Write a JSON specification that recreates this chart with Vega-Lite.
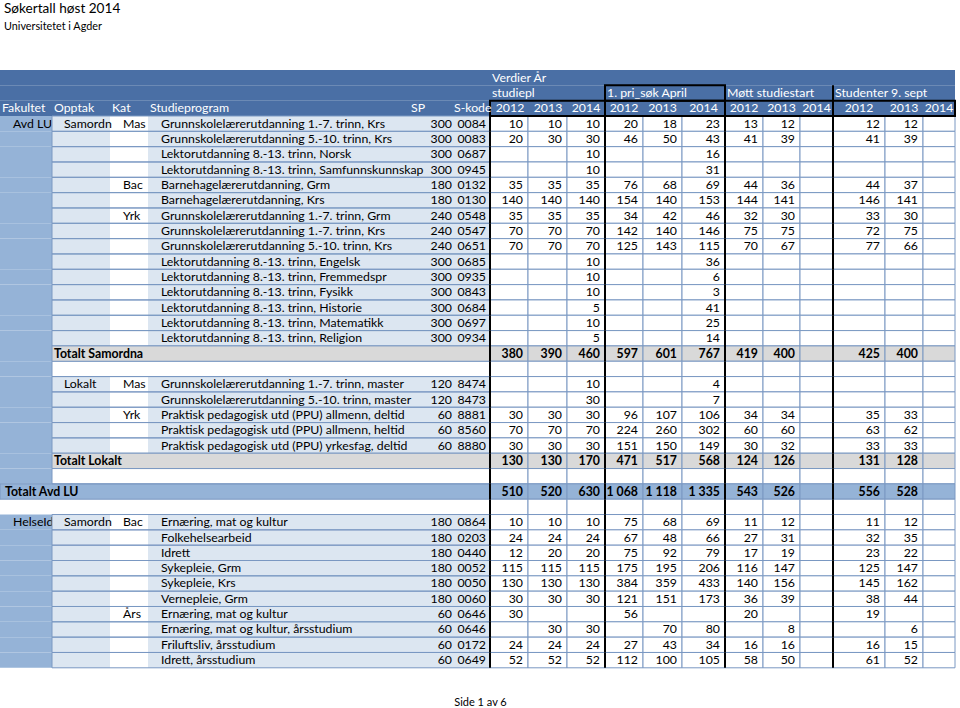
{
  "$schema": "https://vega.github.io/schema/vega-lite/v6.json",
  "width": 960,
  "height": 708,
  "padding": 0,
  "autosize": "none",
  "background": "white",
  "title": {"text": "Søkertall høst 2014", "subtitle": "Universitetet i Agder", "anchor": "start", "frame": "group", "offset": -32, "dx": 4, "fontSize": 13.6, "subtitleFontSize": 10.8, "font": "Lato", "subtitleFont": "Lato", "fontWeight": "normal", "subtitleFontWeight": "normal", "color": "#000000", "subtitleColor": "#000000", "subtitlePadding": 6, "baseline": "top"},
  "config": {
    "view": {"stroke": null},
    "font": "Lato",
    "text": {"font": "Lato", "fontSize": 12.3, "color": "#000000"},
    "locale": {"number": {"decimal": ",", "thousands": " ", "grouping": [3], "currency": ["", " kr"]}}
  },
  "datasets": {
    "cols": [
      {"k": "s12", "yr": "2012", "lo": 6, "hi": 7},
      {"k": "s13", "yr": "2013", "lo": 7, "hi": 8},
      {"k": "s14", "yr": "2014", "lo": 8, "hi": 9},
      {"k": "p12", "yr": "2012", "lo": 9, "hi": 10},
      {"k": "p13", "yr": "2013", "lo": 10, "hi": 11},
      {"k": "p14", "yr": "2014", "lo": 11, "hi": 12},
      {"k": "m12", "yr": "2012", "lo": 12, "hi": 13},
      {"k": "m13", "yr": "2013", "lo": 13, "hi": 14},
      {"k": "m14", "yr": "2014", "lo": 14, "hi": 15},
      {"k": "t12", "yr": "2012", "lo": 15, "hi": 16},
      {"k": "t13", "yr": "2013", "lo": 16, "hi": 17},
      {"k": "t14", "yr": "2014", "lo": 17, "hi": 18}
    ],
    "hdr": [
      {"row": -1, "b": 0, "t": "Fakultet"},
      {"row": -1, "b": 1, "t": "Opptak"},
      {"row": -1, "b": 2, "t": "Kat"},
      {"row": -1, "b": 3, "t": "Studieprogram"},
      {"row": -1, "b": 4, "t": "SP"},
      {"row": -1, "b": 5, "t": "S-kode"},
      {"row": -3, "b": 6, "t": "Verdier År"},
      {"row": -2, "b": 6, "t": "studiepl"},
      {"row": -2, "b": 9, "t": "1. pri_søk April"},
      {"row": -2, "b": 12, "t": "Møtt studiestart"},
      {"row": -2, "b": 15, "t": "Studenter 9. sept"}
    ],
    "tbl": [
      {"row": -3, "kind": "head"},
      {"row": -2, "kind": "head"},
      {"row": -1, "kind": "head"},
      {"row": 0, "kind": "data", "fak": "Avd LU", "opp": "Samordna", "kat": "Mas", "prog": "Grunnskolelærerutdanning 1.-7. trinn, Krs", "sp": 300, "sk": "0084", "s12": 10, "s13": 10, "s14": 10, "p12": 20, "p13": 18, "p14": 23, "m12": 13, "m13": 12, "t12": 12, "t13": 12},
      {"row": 1, "kind": "data", "prog": "Grunnskolelærerutdanning 5.-10. trinn, Krs", "sp": 300, "sk": "0083", "s12": 20, "s13": 30, "s14": 30, "p12": 46, "p13": 50, "p14": 43, "m12": 41, "m13": 39, "t12": 41, "t13": 39},
      {"row": 2, "kind": "data", "prog": "Lektorutdanning 8.-13. trinn, Norsk", "sp": 300, "sk": "0687", "s14": 10, "p14": 16},
      {"row": 3, "kind": "data", "prog": "Lektorutdanning 8.-13. trinn, Samfunnskunnskap", "sp": 300, "sk": "0945", "s14": 10, "p14": 31},
      {"row": 4, "kind": "data", "kat": "Bac", "prog": "Barnehagelærerutdanning, Grm", "sp": 180, "sk": "0132", "s12": 35, "s13": 35, "s14": 35, "p12": 76, "p13": 68, "p14": 69, "m12": 44, "m13": 36, "t12": 44, "t13": 37},
      {"row": 5, "kind": "data", "prog": "Barnehagelærerutdanning, Krs", "sp": 180, "sk": "0130", "s12": 140, "s13": 140, "s14": 140, "p12": 154, "p13": 140, "p14": 153, "m12": 144, "m13": 141, "t12": 146, "t13": 141},
      {"row": 6, "kind": "data", "kat": "Yrk", "prog": "Grunnskolelærerutdanning 1.-7. trinn, Grm", "sp": 240, "sk": "0548", "s12": 35, "s13": 35, "s14": 35, "p12": 34, "p13": 42, "p14": 46, "m12": 32, "m13": 30, "t12": 33, "t13": 30},
      {"row": 7, "kind": "data", "prog": "Grunnskolelærerutdanning 1.-7. trinn, Krs", "sp": 240, "sk": "0547", "s12": 70, "s13": 70, "s14": 70, "p12": 142, "p13": 140, "p14": 146, "m12": 75, "m13": 75, "t12": 72, "t13": 75},
      {"row": 8, "kind": "data", "prog": "Grunnskolelærerutdanning 5.-10. trinn, Krs", "sp": 240, "sk": "0651", "s12": 70, "s13": 70, "s14": 70, "p12": 125, "p13": 143, "p14": 115, "m12": 70, "m13": 67, "t12": 77, "t13": 66},
      {"row": 9, "kind": "data", "prog": "Lektorutdanning 8.-13. trinn, Engelsk", "sp": 300, "sk": "0685", "s14": 10, "p14": 36},
      {"row": 10, "kind": "data", "prog": "Lektorutdanning 8.-13. trinn, Fremmedspr", "sp": 300, "sk": "0935", "s14": 10, "p14": 6},
      {"row": 11, "kind": "data", "prog": "Lektorutdanning 8.-13. trinn, Fysikk", "sp": 300, "sk": "0843", "s14": 10, "p14": 3},
      {"row": 12, "kind": "data", "prog": "Lektorutdanning 8.-13. trinn, Historie", "sp": 300, "sk": "0684", "s14": 5, "p14": 41},
      {"row": 13, "kind": "data", "prog": "Lektorutdanning 8.-13. trinn, Matematikk", "sp": 300, "sk": "0697", "s14": 10, "p14": 25},
      {"row": 14, "kind": "data", "prog": "Lektorutdanning 8.-13. trinn, Religion", "sp": 300, "sk": "0934", "s14": 5, "p14": 14},
      {"row": 15, "kind": "total", "lbl": "Totalt Samordna", "s12": 380, "s13": 390, "s14": 460, "p12": 597, "p13": 601, "p14": 767, "m12": 419, "m13": 400, "t12": 425, "t13": 400},
      {"row": 16, "kind": "blank"},
      {"row": 17, "kind": "data", "opp": "Lokalt", "kat": "Mas", "prog": "Grunnskolelærerutdanning 1.-7. trinn, master", "sp": 120, "sk": "8474", "s14": 10, "p14": 4},
      {"row": 18, "kind": "data", "prog": "Grunnskolelærerutdanning 5.-10. trinn, master", "sp": 120, "sk": "8473", "s14": 30, "p14": 7},
      {"row": 19, "kind": "data", "kat": "Yrk", "prog": "Praktisk pedagogisk utd (PPU) allmenn, deltid", "sp": 60, "sk": "8881", "s12": 30, "s13": 30, "s14": 30, "p12": 96, "p13": 107, "p14": 106, "m12": 34, "m13": 34, "t12": 35, "t13": 33},
      {"row": 20, "kind": "data", "prog": "Praktisk pedagogisk utd (PPU) allmenn, heltid", "sp": 60, "sk": "8560", "s12": 70, "s13": 70, "s14": 70, "p12": 224, "p13": 260, "p14": 302, "m12": 60, "m13": 60, "t12": 63, "t13": 62},
      {"row": 21, "kind": "data", "prog": "Praktisk pedagogisk utd (PPU) yrkesfag, deltid", "sp": 60, "sk": "8880", "s12": 30, "s13": 30, "s14": 30, "p12": 151, "p13": 150, "p14": 149, "m12": 30, "m13": 32, "t12": 33, "t13": 33},
      {"row": 22, "kind": "total", "lbl": "Totalt Lokalt", "s12": 130, "s13": 130, "s14": 170, "p12": 471, "p13": 517, "p14": 568, "m12": 124, "m13": 126, "t12": 131, "t13": 128},
      {"row": 23, "kind": "blank"},
      {"row": 24, "kind": "grand", "lbl": "Totalt Avd LU", "s12": 510, "s13": 520, "s14": 630, "p12": 1068, "p13": 1118, "p14": 1335, "m12": 543, "m13": 526, "t12": 556, "t13": 528},
      {"row": 25, "kind": "gap"},
      {"row": 26, "kind": "data", "fak": "HelseIdrett", "opp": "Samordna", "kat": "Bac", "prog": "Ernæring, mat og kultur", "sp": 180, "sk": "0864", "s12": 10, "s13": 10, "s14": 10, "p12": 75, "p13": 68, "p14": 69, "m12": 11, "m13": 12, "t12": 11, "t13": 12},
      {"row": 27, "kind": "data", "prog": "Folkehelsearbeid", "sp": 180, "sk": "0203", "s12": 24, "s13": 24, "s14": 24, "p12": 67, "p13": 48, "p14": 66, "m12": 27, "m13": 31, "t12": 32, "t13": 35},
      {"row": 28, "kind": "data", "prog": "Idrett", "sp": 180, "sk": "0440", "s12": 12, "s13": 20, "s14": 20, "p12": 75, "p13": 92, "p14": 79, "m12": 17, "m13": 19, "t12": 23, "t13": 22},
      {"row": 29, "kind": "data", "prog": "Sykepleie, Grm", "sp": 180, "sk": "0052", "s12": 115, "s13": 115, "s14": 115, "p12": 175, "p13": 195, "p14": 206, "m12": 116, "m13": 147, "t12": 125, "t13": 147},
      {"row": 30, "kind": "data", "prog": "Sykepleie, Krs", "sp": 180, "sk": "0050", "s12": 130, "s13": 130, "s14": 130, "p12": 384, "p13": 359, "p14": 433, "m12": 140, "m13": 156, "t12": 145, "t13": 162},
      {"row": 31, "kind": "data", "prog": "Vernepleie, Grm", "sp": 180, "sk": "0060", "s12": 30, "s13": 30, "s14": 30, "p12": 121, "p13": 151, "p14": 173, "m12": 36, "m13": 39, "t12": 38, "t13": 44},
      {"row": 32, "kind": "data", "kat": "Års", "prog": "Ernæring, mat og kultur", "sp": 60, "sk": "0646", "s12": 30, "p12": 56, "m12": 20, "t12": 19},
      {"row": 33, "kind": "data", "prog": "Ernæring, mat og kultur, årsstudium", "sp": 60, "sk": "0646", "s13": 30, "s14": 30, "p13": 70, "p14": 80, "m13": 8, "t13": 6},
      {"row": 34, "kind": "data", "prog": "Friluftsliv, årsstudium", "sp": 60, "sk": "0172", "s12": 24, "s13": 24, "s14": 24, "p12": 27, "p13": 43, "p14": 34, "m12": 16, "m13": 16, "t12": 16, "t13": 15},
      {"row": 35, "kind": "data", "prog": "Idrett, årsstudium", "sp": 60, "sk": "0649", "s12": 52, "s13": 52, "s14": 52, "p12": 112, "p13": 100, "p14": 105, "m12": 58, "m13": 50, "t12": 61, "t13": 52}
    ]
  },
  "resolve": {"scale": {"x": "independent"}},
  "layer": [
    {
      "layer": [
        {
          "data": {"name": "tbl"},
          "transform": [{"filter": "datum.kind === 'head'"}],
          "mark": {"type": "rect", "fill": "#4A6FA5"},
          "encoding": {
            "x": {"datum": 0, "type": "quantitative", "scale": {"type": "linear", "domain": [0,1,2,3,4,5,6,7,8,9,10,11,12,13,14,15,16,17,18], "range": [0,52,110,148,409,452,490,528,567,605,643,682,725,763,800,833,885,923,955], "nice": false, "zero": false}, "axis": null},
            "x2": {"datum": 18},
            "y": {"field": "row", "type": "ordinal", "scale": {"type": "band", "domain": [-3,-2,-1,0,1,2,3,4,5,6,7,8,9,10,11,12,13,14,15,16,17,18,19,20,21,22,23,24,25,26,27,28,29,30,31,32,33,34,35], "range": [70, 667.8], "paddingInner": 0, "paddingOuter": 0}, "axis": null}
          }
        },
        {
          "data": {"name": "tbl"},
          "transform": [{"filter": "indexof(['data','total','blank'], datum.kind) >= 0"}],
          "mark": {"type": "rect", "fill": "#95B3D7"},
          "encoding": {
            "x": {"datum": 0, "type": "quantitative", "scale": {"type": "linear", "domain": [0,1,2,3,4,5,6,7,8,9,10,11,12,13,14,15,16,17,18], "range": [0,52,110,148,409,452,490,528,567,605,643,682,725,763,800,833,885,923,955], "nice": false, "zero": false}, "axis": null},
            "x2": {"datum": 1},
            "y": {"field": "row", "type": "ordinal", "scale": {"type": "band", "domain": [-3,-2,-1,0,1,2,3,4,5,6,7,8,9,10,11,12,13,14,15,16,17,18,19,20,21,22,23,24,25,26,27,28,29,30,31,32,33,34,35], "range": [70, 667.8], "paddingInner": 0, "paddingOuter": 0}, "axis": null}
          }
        },
        {
          "data": {"name": "tbl"},
          "transform": [{"filter": "isValid(datum.fak)"}],
          "mark": {"type": "text", "align": "left", "dx": 13, "limit": 47, "ellipsis": "\u200b", "fontSize": 12.3},
          "encoding": {
            "x": {"datum": 0, "type": "quantitative", "scale": {"type": "linear", "domain": [0,1,2,3,4,5,6,7,8,9,10,11,12,13,14,15,16,17,18], "range": [0,52,110,148,409,452,490,528,567,605,643,682,725,763,800,833,885,923,955], "nice": false, "zero": false}, "axis": null},
            "y": {"field": "row", "type": "ordinal", "scale": {"type": "band", "domain": [-3,-2,-1,0,1,2,3,4,5,6,7,8,9,10,11,12,13,14,15,16,17,18,19,20,21,22,23,24,25,26,27,28,29,30,31,32,33,34,35], "range": [70, 667.8], "paddingInner": 0, "paddingOuter": 0}, "axis": null},
            "text": {"field": "fak"}
          }
        },
        {
          "data": {"name": "tbl"},
          "transform": [{"filter": "datum.kind === 'grand'"}],
          "mark": {"type": "rect", "fill": "#95B3D7", "stroke": "#7A98C2", "strokeWidth": 1},
          "encoding": {
            "x": {"datum": 0, "type": "quantitative", "scale": {"type": "linear", "domain": [0,1,2,3,4,5,6,7,8,9,10,11,12,13,14,15,16,17,18], "range": [0,52,110,148,409,452,490,528,567,605,643,682,725,763,800,833,885,923,955], "nice": false, "zero": false}, "axis": null},
            "x2": {"datum": 6},
            "y": {"field": "row", "type": "ordinal", "scale": {"type": "band", "domain": [-3,-2,-1,0,1,2,3,4,5,6,7,8,9,10,11,12,13,14,15,16,17,18,19,20,21,22,23,24,25,26,27,28,29,30,31,32,33,34,35], "range": [70, 667.8], "paddingInner": 0, "paddingOuter": 0}, "axis": null}
          }
        },
        {
          "data": {"name": "tbl"},
          "transform": [{"filter": "datum.kind === 'data'"}],
          "mark": {"type": "rect", "fill": "#DCE6F1"},
          "encoding": {
            "x": {"datum": 1, "type": "quantitative", "scale": {"type": "linear", "domain": [0,1,2,3,4,5,6,7,8,9,10,11,12,13,14,15,16,17,18], "range": [0,52,110,148,409,452,490,528,567,605,643,682,725,763,800,833,885,923,955], "nice": false, "zero": false}, "axis": null},
            "x2": {"datum": 2},
            "y": {"field": "row", "type": "ordinal", "scale": {"type": "band", "domain": [-3,-2,-1,0,1,2,3,4,5,6,7,8,9,10,11,12,13,14,15,16,17,18,19,20,21,22,23,24,25,26,27,28,29,30,31,32,33,34,35], "range": [70, 667.8], "paddingInner": 0, "paddingOuter": 0}, "axis": null}
          }
        },
        {
          "data": {"name": "tbl"},
          "transform": [{"filter": "datum.kind === 'data'"}],
          "mark": {"type": "rect", "fill": "#DCE6F1"},
          "encoding": {
            "x": {"datum": 3, "type": "quantitative", "scale": {"type": "linear", "domain": [0,1,2,3,4,5,6,7,8,9,10,11,12,13,14,15,16,17,18], "range": [0,52,110,148,409,452,490,528,567,605,643,682,725,763,800,833,885,923,955], "nice": false, "zero": false}, "axis": null},
            "x2": {"datum": 6},
            "y": {"field": "row", "type": "ordinal", "scale": {"type": "band", "domain": [-3,-2,-1,0,1,2,3,4,5,6,7,8,9,10,11,12,13,14,15,16,17,18,19,20,21,22,23,24,25,26,27,28,29,30,31,32,33,34,35], "range": [70, 667.8], "paddingInner": 0, "paddingOuter": 0}, "axis": null}
          }
        },
        {
          "data": {"name": "tbl"},
          "transform": [{"filter": "datum.kind === 'data' || datum.kind === 'blank'"}],
          "mark": {"type": "rect", "filled": false, "stroke": "#7A98C2", "strokeWidth": 1},
          "encoding": {
            "x": {"datum": 1, "type": "quantitative", "scale": {"type": "linear", "domain": [0,1,2,3,4,5,6,7,8,9,10,11,12,13,14,15,16,17,18], "range": [0,52,110,148,409,452,490,528,567,605,643,682,725,763,800,833,885,923,955], "nice": false, "zero": false}, "axis": null},
            "x2": {"datum": 6},
            "y": {"field": "row", "type": "ordinal", "scale": {"type": "band", "domain": [-3,-2,-1,0,1,2,3,4,5,6,7,8,9,10,11,12,13,14,15,16,17,18,19,20,21,22,23,24,25,26,27,28,29,30,31,32,33,34,35], "range": [70, 667.8], "paddingInner": 0, "paddingOuter": 0}, "axis": null}
          }
        },
        {
          "data": {"name": "tbl"},
          "transform": [{"filter": "datum.kind === 'total'"}],
          "mark": {"type": "rect", "fill": "#D9D9D9", "stroke": "#7A98C2", "strokeWidth": 1},
          "encoding": {
            "x": {"datum": 1, "type": "quantitative", "scale": {"type": "linear", "domain": [0,1,2,3,4,5,6,7,8,9,10,11,12,13,14,15,16,17,18], "range": [0,52,110,148,409,452,490,528,567,605,643,682,725,763,800,833,885,923,955], "nice": false, "zero": false}, "axis": null},
            "x2": {"datum": 6},
            "y": {"field": "row", "type": "ordinal", "scale": {"type": "band", "domain": [-3,-2,-1,0,1,2,3,4,5,6,7,8,9,10,11,12,13,14,15,16,17,18,19,20,21,22,23,24,25,26,27,28,29,30,31,32,33,34,35], "range": [70, 667.8], "paddingInner": 0, "paddingOuter": 0}, "axis": null}
          }
        },
        {
          "data": {"name": "tbl"},
          "transform": [
            {"filter": "datum.kind !== 'head'"},
            {"fold": ["s12","s13","s14","p12","p13","p14","m12","m13","m14","t12","t13","t14"], "as": ["key", "value"]},
            {"lookup": "key", "from": {"data": {"name": "cols"}, "key": "k", "fields": ["lo", "hi"]}}
          ],
          "mark": {"type": "rect", "stroke": "#7A98C2", "strokeWidth": 1},
          "encoding": {
            "x": {"field": "lo", "type": "quantitative", "scale": {"type": "linear", "domain": [0,1,2,3,4,5,6,7,8,9,10,11,12,13,14,15,16,17,18], "range": [0,52,110,148,409,452,490,528,567,605,643,682,725,763,800,833,885,923,955], "nice": false, "zero": false}, "axis": null},
            "x2": {"field": "hi"},
            "y": {"field": "row", "type": "ordinal", "scale": {"type": "band", "domain": [-3,-2,-1,0,1,2,3,4,5,6,7,8,9,10,11,12,13,14,15,16,17,18,19,20,21,22,23,24,25,26,27,28,29,30,31,32,33,34,35], "range": [70, 667.8], "paddingInner": 0, "paddingOuter": 0}, "axis": null},
            "fill": {"field": "kind", "type": "nominal", "scale": {"domain": ["data", "blank", "gap", "total", "grand"], "range": ["#FFFFFF", "#FFFFFF", "#FFFFFF", "#D9D9D9", "#95B3D7"]}, "legend": null}
          }
        },
        {
          "data": {"name": "tbl"},
          "transform": [
            {"fold": ["s12","p12","m12","t12"], "as": ["key", "value"]},
            {"lookup": "key", "from": {"data": {"name": "cols"}, "key": "k", "fields": ["lo", "hi"]}},
            {"filter": "(datum.lo === 6 && datum.row >= -1) || (datum.lo !== 6 && datum.row >= -2)"}
          ],
          "mark": {"type": "rect", "filled": false, "stroke": "#000000", "strokeWidth": 2},
          "encoding": {
            "x": {"field": "lo", "type": "quantitative", "scale": {"type": "linear", "domain": [0,1,2,3,4,5,6,7,8,9,10,11,12,13,14,15,16,17,18], "range": [0,52,110,148,409,452,490,528,567,605,643,682,725,763,800,833,885,923,955], "nice": false, "zero": false}, "axis": null},
            "x2": {"field": "lo"},
            "y": {"field": "row", "type": "ordinal", "scale": {"type": "band", "domain": [-3,-2,-1,0,1,2,3,4,5,6,7,8,9,10,11,12,13,14,15,16,17,18,19,20,21,22,23,24,25,26,27,28,29,30,31,32,33,34,35], "range": [70, 667.8], "paddingInner": 0, "paddingOuter": 0}, "axis": null}
          }
        },
        {
          "data": {"name": "tbl"},
          "transform": [{"filter": "datum.row === -1"}],
          "mark": {"type": "rect", "filled": false, "stroke": "#000000", "strokeWidth": 2},
          "encoding": {
            "x": {"datum": 6, "type": "quantitative", "scale": {"type": "linear", "domain": [0,1,2,3,4,5,6,7,8,9,10,11,12,13,14,15,16,17,18], "range": [0,52,110,148,409,452,490,528,567,605,643,682,725,763,800,833,885,923,955], "nice": false, "zero": false}, "axis": null},
            "x2": {"datum": 18},
            "y": {"field": "row", "type": "ordinal", "scale": {"type": "band", "domain": [-3,-2,-1,0,1,2,3,4,5,6,7,8,9,10,11,12,13,14,15,16,17,18,19,20,21,22,23,24,25,26,27,28,29,30,31,32,33,34,35], "range": [70, 667.8], "paddingInner": 0, "paddingOuter": 0}, "axis": null}
          }
        },
        {
          "data": {"name": "tbl"},
          "transform": [{"filter": "datum.row === -2"}],
          "mark": {"type": "rect", "filled": false, "stroke": "#000000", "strokeWidth": 2},
          "encoding": {
            "x": {"datum": 9, "type": "quantitative", "scale": {"type": "linear", "domain": [0,1,2,3,4,5,6,7,8,9,10,11,12,13,14,15,16,17,18], "range": [0,52,110,148,409,452,490,528,567,605,643,682,725,763,800,833,885,923,955], "nice": false, "zero": false}, "axis": null},
            "x2": {"datum": 12},
            "y": {"field": "row", "type": "ordinal", "scale": {"type": "band", "domain": [-3,-2,-1,0,1,2,3,4,5,6,7,8,9,10,11,12,13,14,15,16,17,18,19,20,21,22,23,24,25,26,27,28,29,30,31,32,33,34,35], "range": [70, 667.8], "paddingInner": 0, "paddingOuter": 0}, "axis": null}
          }
        },
        {
          "data": {"name": "hdr"},
          "mark": {"type": "text", "align": "left", "dx": 2, "color": "#FFFFFF", "fontSize": 12.3},
          "encoding": {
            "x": {"field": "b", "type": "quantitative", "scale": {"type": "linear", "domain": [0,1,2,3,4,5,6,7,8,9,10,11,12,13,14,15,16,17,18], "range": [0,52,110,148,409,452,490,528,567,605,643,682,725,763,800,833,885,923,955], "nice": false, "zero": false}, "axis": null},
            "y": {"field": "row", "type": "ordinal", "scale": {"type": "band", "domain": [-3,-2,-1,0,1,2,3,4,5,6,7,8,9,10,11,12,13,14,15,16,17,18,19,20,21,22,23,24,25,26,27,28,29,30,31,32,33,34,35], "range": [70, 667.8], "paddingInner": 0, "paddingOuter": 0}, "axis": null},
            "text": {"field": "t"}
          }
        },
        {
          "data": {"name": "tbl"},
          "transform": [{"filter": "isValid(datum.opp)"}],
          "mark": {"type": "text", "align": "left", "dx": 12, "limit": 49, "ellipsis": "\u200b", "fontSize": 12.3},
          "encoding": {
            "x": {"datum": 1, "type": "quantitative", "scale": {"type": "linear", "domain": [0,1,2,3,4,5,6,7,8,9,10,11,12,13,14,15,16,17,18], "range": [0,52,110,148,409,452,490,528,567,605,643,682,725,763,800,833,885,923,955], "nice": false, "zero": false}, "axis": null},
            "y": {"field": "row", "type": "ordinal", "scale": {"type": "band", "domain": [-3,-2,-1,0,1,2,3,4,5,6,7,8,9,10,11,12,13,14,15,16,17,18,19,20,21,22,23,24,25,26,27,28,29,30,31,32,33,34,35], "range": [70, 667.8], "paddingInner": 0, "paddingOuter": 0}, "axis": null},
            "text": {"field": "opp"}
          }
        },
        {
          "data": {"name": "tbl"},
          "transform": [{"filter": "isValid(datum.kat)"}],
          "mark": {"type": "text", "align": "left", "dx": 13, "fontSize": 12.3},
          "encoding": {
            "x": {"datum": 2, "type": "quantitative", "scale": {"type": "linear", "domain": [0,1,2,3,4,5,6,7,8,9,10,11,12,13,14,15,16,17,18], "range": [0,52,110,148,409,452,490,528,567,605,643,682,725,763,800,833,885,923,955], "nice": false, "zero": false}, "axis": null},
            "y": {"field": "row", "type": "ordinal", "scale": {"type": "band", "domain": [-3,-2,-1,0,1,2,3,4,5,6,7,8,9,10,11,12,13,14,15,16,17,18,19,20,21,22,23,24,25,26,27,28,29,30,31,32,33,34,35], "range": [70, 667.8], "paddingInner": 0, "paddingOuter": 0}, "axis": null},
            "text": {"field": "kat"}
          }
        },
        {
          "data": {"name": "tbl"},
          "transform": [{"filter": "isValid(datum.prog)"}],
          "mark": {"type": "text", "align": "left", "dx": 13, "fontSize": 12.3},
          "encoding": {
            "x": {"datum": 3, "type": "quantitative", "scale": {"type": "linear", "domain": [0,1,2,3,4,5,6,7,8,9,10,11,12,13,14,15,16,17,18], "range": [0,52,110,148,409,452,490,528,567,605,643,682,725,763,800,833,885,923,955], "nice": false, "zero": false}, "axis": null},
            "y": {"field": "row", "type": "ordinal", "scale": {"type": "band", "domain": [-3,-2,-1,0,1,2,3,4,5,6,7,8,9,10,11,12,13,14,15,16,17,18,19,20,21,22,23,24,25,26,27,28,29,30,31,32,33,34,35], "range": [70, 667.8], "paddingInner": 0, "paddingOuter": 0}, "axis": null},
            "text": {"field": "prog"}
          }
        },
        {
          "data": {"name": "tbl"},
          "transform": [{"filter": "isValid(datum.sp)"}],
          "mark": {"type": "text", "align": "right", "dx": 0, "fontSize": 12.3},
          "encoding": {
            "x": {"datum": 5, "type": "quantitative", "scale": {"type": "linear", "domain": [0,1,2,3,4,5,6,7,8,9,10,11,12,13,14,15,16,17,18], "range": [0,52,110,148,409,452,490,528,567,605,643,682,725,763,800,833,885,923,955], "nice": false, "zero": false}, "axis": null},
            "y": {"field": "row", "type": "ordinal", "scale": {"type": "band", "domain": [-3,-2,-1,0,1,2,3,4,5,6,7,8,9,10,11,12,13,14,15,16,17,18,19,20,21,22,23,24,25,26,27,28,29,30,31,32,33,34,35], "range": [70, 667.8], "paddingInner": 0, "paddingOuter": 0}, "axis": null},
            "text": {"field": "sp", "type": "quantitative", "format": "d"}
          }
        },
        {
          "data": {"name": "tbl"},
          "transform": [{"filter": "isValid(datum.sk)"}],
          "mark": {"type": "text", "align": "right", "dx": -4, "fontSize": 12.3},
          "encoding": {
            "x": {"datum": 6, "type": "quantitative", "scale": {"type": "linear", "domain": [0,1,2,3,4,5,6,7,8,9,10,11,12,13,14,15,16,17,18], "range": [0,52,110,148,409,452,490,528,567,605,643,682,725,763,800,833,885,923,955], "nice": false, "zero": false}, "axis": null},
            "y": {"field": "row", "type": "ordinal", "scale": {"type": "band", "domain": [-3,-2,-1,0,1,2,3,4,5,6,7,8,9,10,11,12,13,14,15,16,17,18,19,20,21,22,23,24,25,26,27,28,29,30,31,32,33,34,35], "range": [70, 667.8], "paddingInner": 0, "paddingOuter": 0}, "axis": null},
            "text": {"field": "sk"}
          }
        },
        {
          "data": {"name": "tbl"},
          "transform": [{"filter": "datum.kind === 'total'"}],
          "mark": {"type": "text", "align": "left", "dx": 2, "fontSize": 12.3, "fontWeight": "bold"},
          "encoding": {
            "x": {"datum": 1, "type": "quantitative", "scale": {"type": "linear", "domain": [0,1,2,3,4,5,6,7,8,9,10,11,12,13,14,15,16,17,18], "range": [0,52,110,148,409,452,490,528,567,605,643,682,725,763,800,833,885,923,955], "nice": false, "zero": false}, "axis": null},
            "y": {"field": "row", "type": "ordinal", "scale": {"type": "band", "domain": [-3,-2,-1,0,1,2,3,4,5,6,7,8,9,10,11,12,13,14,15,16,17,18,19,20,21,22,23,24,25,26,27,28,29,30,31,32,33,34,35], "range": [70, 667.8], "paddingInner": 0, "paddingOuter": 0}, "axis": null},
            "text": {"field": "lbl"}
          }
        },
        {
          "data": {"name": "tbl"},
          "transform": [{"filter": "datum.kind === 'grand'"}],
          "mark": {"type": "text", "align": "left", "dx": 5, "fontSize": 12.3, "fontWeight": "bold"},
          "encoding": {
            "x": {"datum": 0, "type": "quantitative", "scale": {"type": "linear", "domain": [0,1,2,3,4,5,6,7,8,9,10,11,12,13,14,15,16,17,18], "range": [0,52,110,148,409,452,490,528,567,605,643,682,725,763,800,833,885,923,955], "nice": false, "zero": false}, "axis": null},
            "y": {"field": "row", "type": "ordinal", "scale": {"type": "band", "domain": [-3,-2,-1,0,1,2,3,4,5,6,7,8,9,10,11,12,13,14,15,16,17,18,19,20,21,22,23,24,25,26,27,28,29,30,31,32,33,34,35], "range": [70, 667.8], "paddingInner": 0, "paddingOuter": 0}, "axis": null},
            "text": {"field": "lbl"}
          }
        },
        {
          "data": {"name": "tbl"},
          "transform": [
            {"filter": "datum.kind === 'data'"},
            {"fold": ["s12","s13","s14","p12","p13","p14","m12","m13","m14","t12","t13","t14"], "as": ["key", "value"]},
            {"filter": "isValid(datum.value)"},
            {"lookup": "key", "from": {"data": {"name": "cols"}, "key": "k", "fields": ["lo", "hi"]}}
          ],
          "mark": {"type": "text", "align": "right", "dx": -5, "fontSize": 12.3},
          "encoding": {
            "x": {"field": "hi", "type": "quantitative", "scale": {"type": "linear", "domain": [0,1,2,3,4,5,6,7,8,9,10,11,12,13,14,15,16,17,18], "range": [0,52,110,148,409,452,490,528,567,605,643,682,725,763,800,833,885,923,955], "nice": false, "zero": false}, "axis": null},
            "y": {"field": "row", "type": "ordinal", "scale": {"type": "band", "domain": [-3,-2,-1,0,1,2,3,4,5,6,7,8,9,10,11,12,13,14,15,16,17,18,19,20,21,22,23,24,25,26,27,28,29,30,31,32,33,34,35], "range": [70, 667.8], "paddingInner": 0, "paddingOuter": 0}, "axis": null},
            "text": {"field": "value", "type": "quantitative", "format": ",d"}
          }
        },
        {
          "data": {"name": "tbl"},
          "transform": [
            {"filter": "datum.kind === 'total' || datum.kind === 'grand'"},
            {"fold": ["s12","s13","s14","p12","p13","p14","m12","m13","m14","t12","t13","t14"], "as": ["key", "value"]},
            {"filter": "isValid(datum.value)"},
            {"lookup": "key", "from": {"data": {"name": "cols"}, "key": "k", "fields": ["lo", "hi"]}}
          ],
          "mark": {"type": "text", "align": "right", "dx": -5, "fontSize": 12.3, "fontWeight": "bold"},
          "encoding": {
            "x": {"field": "hi", "type": "quantitative", "scale": {"type": "linear", "domain": [0,1,2,3,4,5,6,7,8,9,10,11,12,13,14,15,16,17,18], "range": [0,52,110,148,409,452,490,528,567,605,643,682,725,763,800,833,885,923,955], "nice": false, "zero": false}, "axis": null},
            "y": {"field": "row", "type": "ordinal", "scale": {"type": "band", "domain": [-3,-2,-1,0,1,2,3,4,5,6,7,8,9,10,11,12,13,14,15,16,17,18,19,20,21,22,23,24,25,26,27,28,29,30,31,32,33,34,35], "range": [70, 667.8], "paddingInner": 0, "paddingOuter": 0}, "axis": null},
            "text": {"field": "value", "type": "quantitative", "format": ",d"}
          }
        }
      ]
    },
    {
      "data": {"name": "cols"},
      "mark": {"type": "text", "align": "center", "color": "#FFFFFF", "fontSize": 12.3},
      "encoding": {
        "x": {"field": "hi", "type": "quantitative", "scale": {"type": "linear", "domain": [7,8,9,10,11,12,13,14,15,16,17,18], "range": [510,548,586,624,662.5,703.5,744,781.5,816.5,859,904,939], "nice": false, "zero": false},
          "axis": {"orient": "bottom", "title": "Side 1 av 6", "labels": false, "ticks": false, "domain": false, "grid": false, "titleX": 480, "titleY": -6, "titleAlign": "center", "titleBaseline": "middle", "titleFontSize": 11, "titleFontWeight": "normal", "titleColor": "#000000", "titleFont": "Lato", "zindex": 1}},
        "y": {"datum": -1, "type": "ordinal", "scale": {"type": "band", "domain": [-3,-2,-1,0,1,2,3,4,5,6,7,8,9,10,11,12,13,14,15,16,17,18,19,20,21,22,23,24,25,26,27,28,29,30,31,32,33,34,35], "range": [70, 667.8], "paddingInner": 0, "paddingOuter": 0}, "axis": null},
        "text": {"field": "yr"}
      }
    }
  ]
}
